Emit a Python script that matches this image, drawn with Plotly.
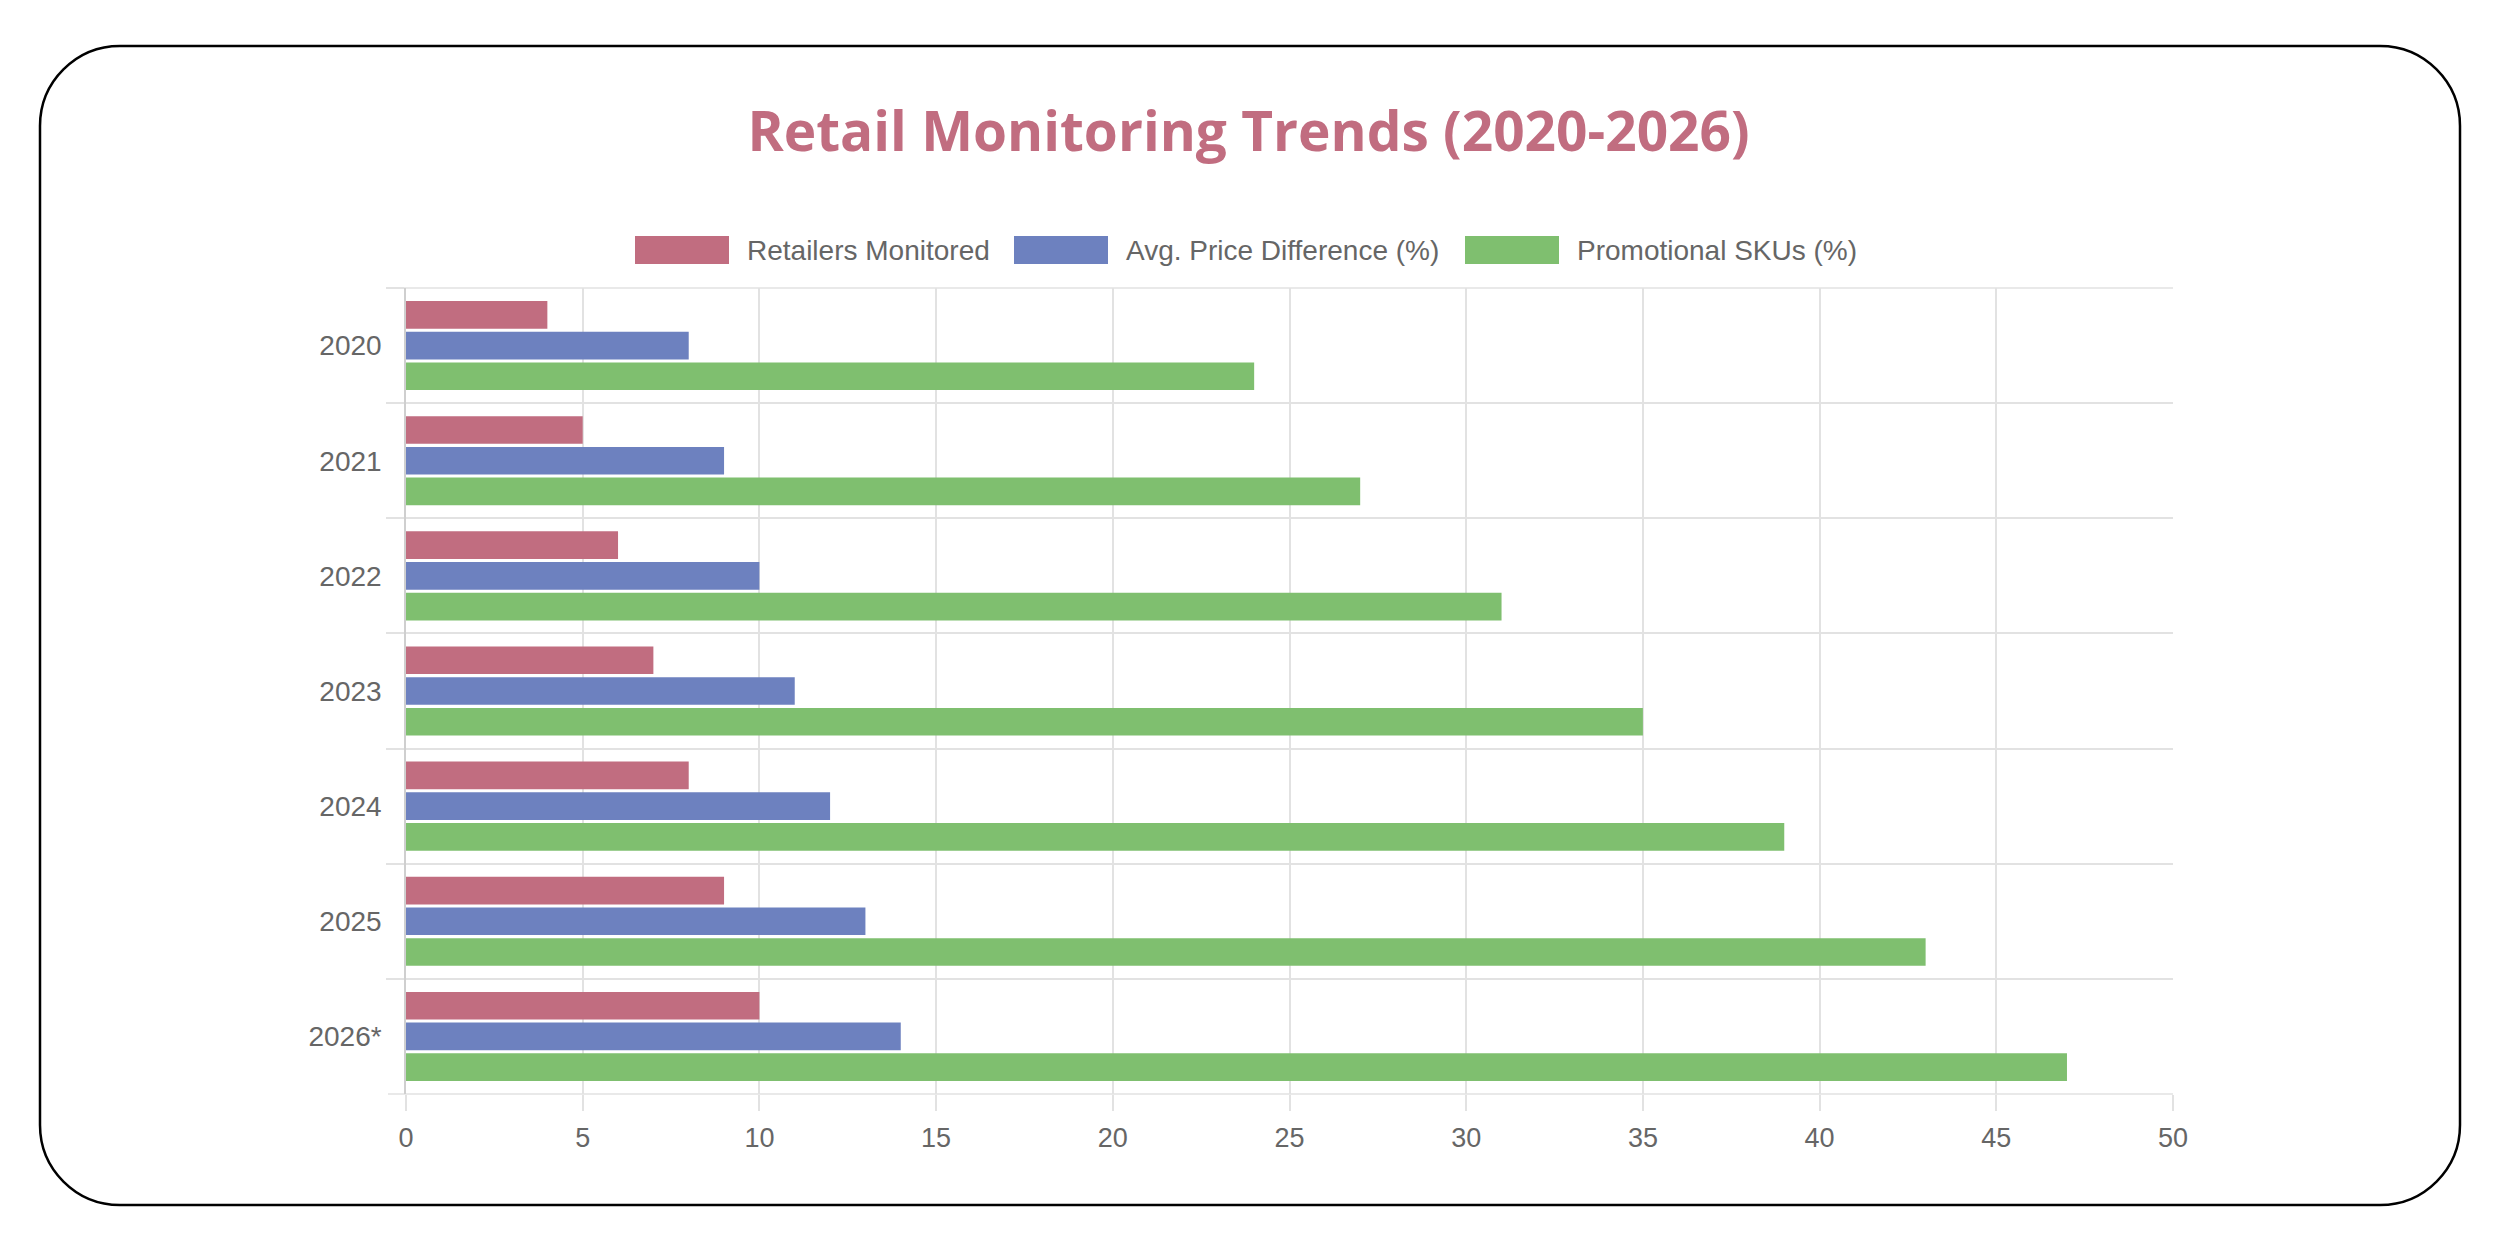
import plotly.graph_objects as go

# ---------------- data ----------------
years = ["2020", "2021", "2022", "2023", "2024", "2025", "2026*"]
retailers_monitored = [4, 5, 6, 7, 8, 9, 10]
avg_price_difference = [8, 9, 10, 11, 12, 13, 14]
promotional_skus = [24, 27, 31, 35, 39, 43, 47]
series_names = ["Retailers Monitored", "Avg. Price Difference (%)", "Promotional SKUs (%)"]
x_tick_values = [0, 5, 10, 15, 20, 25, 30, 35, 40, 45, 50]
title_text = "Retail Monitoring Trends (2020-2026)"

# ---------------- style ----------------
colors = ["#C16D80", "#6D81BF", "#7FBF6F"]
W, H = 2497, 1240
L, R, T, B = 406, 2173, 288, 1094  # plot area in pixels
GRID = "#e2e2e2"
TXT = "#666666"
FONT = "Liberation Sans, Arial"


def px(x):
    return (x - L) / (R - L)


def py(y):
    return (B - y) / (B - T)


fig = go.Figure()
for name, vals, col in zip(series_names,
                           [retailers_monitored, avg_price_difference, promotional_skus],
                           colors):
    fig.add_trace(go.Bar(
        y=years, x=vals, name=name, orientation="h",
        marker=dict(color=col, line=dict(width=0)),
        showlegend=False, hoverinfo="skip",
    ))

shapes = []
annotations = []

# custom legend (wide colour boxes like the original)
box_x = [635, 1014, 1465]
text_x = [745, 1124, 1575]
box_w, box_top, box_bot, leg_y = 94, 236, 264, 250
for i, name in enumerate(series_names):
    shapes.append(dict(type="rect", xref="paper", yref="paper",
                       x0=px(box_x[i]), x1=px(box_x[i] + box_w),
                       y0=py(box_bot), y1=py(box_top),
                       fillcolor=colors[i], line=dict(width=0)))
    annotations.append(dict(text=name, xref="paper", yref="paper",
                            x=px(text_x[i]), y=py(leg_y), xanchor="left", yanchor="middle",
                            showarrow=False,
                            font=dict(family=FONT, size=28, color=TXT)))

# top / bottom boundary lines extending left like the category ticks
for yy in (T, B):
    shapes.append(dict(type="line", xref="paper", yref="paper",
                       x0=px(L - 18), x1=1, y0=py(yy), y1=py(yy),
                       line=dict(color=GRID, width=1.5), layer="below"))

# rounded page border
bl, bt, br, bb, rad = 40, 46, 2460, 1205, 80
k = 0.5523 * rad


def P(x, y):
    return f"{px(x):.6f},{py(y):.6f}"


path = (f"M {P(bl + rad, bt)} L {P(br - rad, bt)} "
        f"C {P(br - rad + k, bt)} {P(br, bt + rad - k)} {P(br, bt + rad)} "
        f"L {P(br, bb - rad)} "
        f"C {P(br, bb - rad + k)} {P(br - rad + k, bb)} {P(br - rad, bb)} "
        f"L {P(bl + rad, bb)} "
        f"C {P(bl + rad - k, bb)} {P(bl, bb - rad + k)} {P(bl, bb - rad)} "
        f"L {P(bl, bt + rad)} "
        f"C {P(bl, bt + rad - k)} {P(bl + rad - k, bt)} {P(bl + rad, bt)} Z")
shapes.append(dict(type="path", xref="paper", yref="paper", path=path,
                   line=dict(color="#000000", width=2.5), fillcolor="rgba(0,0,0,0)",
                   layer="below"))

fig.update_layout(
    width=W, height=H,
    margin=dict(l=L, r=W - R, t=T, b=H - B, pad=0),
    paper_bgcolor="white", plot_bgcolor="white",
    barmode="group", bargap=0.2, bargroupgap=0.1,
    title=dict(text=title_text, x=0.5, xanchor="center", xref="container",
               y=1 - 132 / H, yanchor="middle", yref="container",
               font=dict(family="Open Sans", size=55, color=colors[0], weight="bold")),
    shapes=shapes, annotations=annotations,
    showlegend=False,
    xaxis=dict(range=[0, 50], tickvals=x_tick_values, showgrid=True, gridcolor=GRID, gridwidth=1.5,
               zeroline=False, showline=False, ticks="outside", ticklen=16, tickcolor=GRID,
               tickwidth=1.5,
               tickfont=dict(family=FONT, size=27, color=TXT),
               ticklabelstandoff=4),
    yaxis=dict(type="category", autorange="reversed", tickson="boundaries",
               showgrid=True, gridcolor=GRID, gridwidth=1.5, zeroline=False,
               showline=True, linecolor="#cfcfcf", linewidth=1.5,
               ticks="outside", ticklen=18, tickcolor=GRID, tickwidth=1.5,
               tickfont=dict(family=FONT, size=28, color=TXT),
               ticklabelstandoff=17),
)

fig.write_html("out.html")
